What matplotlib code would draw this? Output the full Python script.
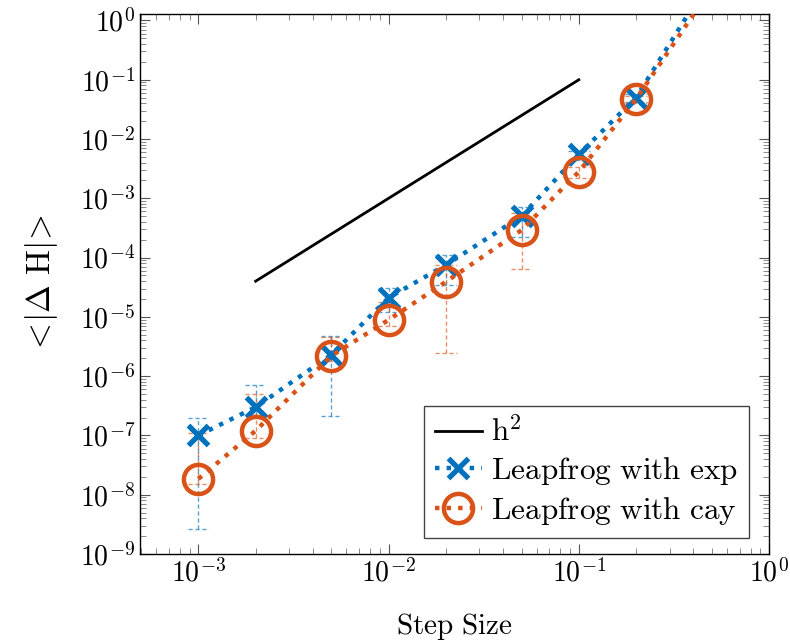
import numpy as np
import matplotlib
matplotlib.use('Agg')
import matplotlib.pyplot as plt
from matplotlib.ticker import LogLocator, FuncFormatter, NullFormatter

plt.rcParams['font.family'] = 'serif'
plt.rcParams['font.serif'] = ['cmr10', 'DejaVu Serif']
plt.rcParams['mathtext.fontset'] = 'cm'
plt.rcParams['axes.unicode_minus'] = False

# step sizes and mean |dH|
h = [1e-3, 2e-3, 5e-3, 1e-2, 2e-2, 5e-2, 1e-1, 2e-1, 5e-1]
dh_exp = [1.0e-7, 3.0e-7, 2.3e-6, 2.1e-5, 7.5e-5, 5.0e-4, 5.5e-3, 5.0e-2, 5.5]
dh_cay = [1.85e-8, 1.2e-7, 2.2e-6, 8.9e-6, 3.9e-5, 2.9e-4, 2.8e-3, 4.7e-2, 3.6]

# error bar bounds (lower, upper)
exp_lo = [2.6e-9, 2.2e-7, 2.1e-7, 1.2e-5, 3.5e-5, 2.2e-4, 4.5e-3, 4.2e-2, 5.0]
exp_hi = [2.0e-7, 7.1e-7, 4.8e-6, 3.1e-5, 1.1e-4, 7.1e-4, 6.2e-3, 5.8e-2, 6.0]
cay_lo = [1.5e-8, 9.0e-8, 1.8e-6, 7.0e-6, 2.5e-6, 6.4e-5, 2.2e-3, 4.0e-2, 3.3]
cay_hi = [1.1e-7, 5.0e-7, 4.6e-6, 1.8e-5, 7.6e-5, 5.7e-4, 3.4e-3, 5.4e-2, 3.9]

# reference slope line
ref_h = [2e-3, 1e-1]
ref_y = [4e-5, 1e-1]

blue = '#0072BD'
orange = '#D95319'

fig = plt.figure(figsize=(7.9, 6.44), dpi=100)
ax = fig.add_axes([0.1772, 0.1398, 0.7962, 0.8392])
ax.set_xscale('log')
ax.set_yscale('log')


def draw_errors(x, lo, hi, color):
    x = np.array(x)
    ax.vlines(x, lo, hi, colors=color, linestyles=(0, (3, 2)), linewidth=1.0, alpha=0.65, zorder=2)
    ax.hlines(lo, x / 1.14, x * 1.14, colors=color, linestyles=(0, (3, 2)), linewidth=1.0, alpha=0.65, zorder=2)
    ax.hlines(hi, x / 1.14, x * 1.14, colors=color, linestyles=(0, (3, 2)), linewidth=1.0, alpha=0.65, zorder=2)


draw_errors(h, exp_lo, exp_hi, blue)
draw_errors(h, cay_lo, cay_hi, orange)

ax.plot(ref_h, ref_y, color='black', linewidth=2.0, label=r'$\mathrm{h}^2$', zorder=3)
ax.plot(h, dh_exp, color=blue, linestyle=(0, (1, 1.6)), linewidth=3.2, marker='x',
        markersize=15, markeredgewidth=3.8, label=r'$\mathrm{Leapfrog\ with\ exp}$', zorder=4)
ax.plot(h, dh_cay, color=orange, linestyle=(0, (1, 1.6)), linewidth=3.2, marker='o',
        markersize=21, markerfacecolor='none', markeredgewidth=3.2,
        label=r'$\mathrm{Leapfrog\ with\ cay}$', zorder=4)

ax.set_xlim(4.93e-4, 1.0)
ax.set_ylim(1e-9, 1.31)

fmt = FuncFormatter(lambda v, p: r'$10^{%d}$' % round(np.log10(v)))
ax.xaxis.set_major_locator(LogLocator(base=10, numticks=20))
ax.yaxis.set_major_locator(LogLocator(base=10, numticks=20))
ax.xaxis.set_minor_locator(LogLocator(base=10, subs=np.arange(2, 10), numticks=20))
ax.yaxis.set_minor_locator(LogLocator(base=10, subs=np.arange(2, 10), numticks=20))
ax.xaxis.set_major_formatter(fmt)
ax.yaxis.set_major_formatter(fmt)
ax.xaxis.set_minor_formatter(NullFormatter())
ax.yaxis.set_minor_formatter(NullFormatter())
ax.tick_params(which='both', direction='in', top=True, right=True, labelsize=20)
ax.tick_params(which='major', length=7, width=0.8, color='#555555')
ax.tick_params(which='minor', length=4, width=0.6, color='#777777')
for s in ax.spines.values():
    s.set_linewidth(1.0)

ax.set_xlabel(r'$\mathrm{Step\ Size}$', fontsize=21, labelpad=17)
ax.set_ylabel(r'$<\!|\Delta\ \mathrm{H}|\!>$', fontsize=24, labelpad=14)

leg = ax.legend(loc='lower right', fontsize=22.5, frameon=True, fancybox=False,
                edgecolor='#444444', framealpha=1, handlelength=1.5, handletextpad=0.3,
                borderpad=0.35, labelspacing=0.24, borderaxespad=0,
                bbox_to_anchor=(0.968, 0.03))
leg.get_frame().set_linewidth(1.0)

fig.savefig('out.png', dpi=100)
